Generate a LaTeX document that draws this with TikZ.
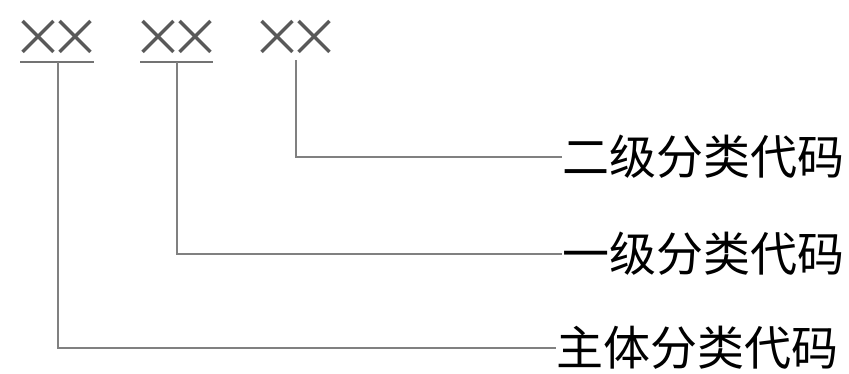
\documentclass[tikz,border=0pt]{standalone}
\usepackage{fontspec}
\newfontfamily\cjk{Noto Sans CJK SC}
\begin{document}
\begin{tikzpicture}[x=1pt,y=-1pt,
  conn/.style={draw=black!50,line width=2.2pt},
  uline/.style={draw=black!55,line width=2.6pt},
  code/.style={inner sep=0pt,font=\cjk\fontsize{52}{52}\selectfont,text=black!65},
  lab/.style={inner sep=0pt,anchor=west,font=\cjk\fontsize{47}{47}\selectfont,text=black}]
\useasboundingbox (0,0) rectangle (849,373);
\node[code] (xx1) at (57,38) {×\kern-15pt×};
\node[code] (xx2) at (177,38) {×\kern-15pt×};
\node[code] (xx3) at (296,38) {×\kern-15pt×};
\coordinate (u1a) at (20,62);
\coordinate (u1b) at (94,62);
\coordinate (u2a) at (140,62);
\coordinate (u2b) at (213,62);
\coordinate (d1) at (58,62);
\coordinate (d2) at (177,62);
\coordinate (d3) at (296,60);
\node[lab] (lab1) at (562,157) {二级分类代码};
\node[lab] (lab2) at (562,254) {一级分类代码};
\node[lab] (lab3) at (556,348) {主体分类代码};
\draw[uline] (u1a) -- (u1b);
\draw[uline] (u2a) -- (u2b);
\draw[conn] (d3) |- (lab1.west);
\draw[conn] (d2) |- (lab2.west);
\draw[conn] (d1) |- (lab3.west);
\end{tikzpicture}
\end{document}
